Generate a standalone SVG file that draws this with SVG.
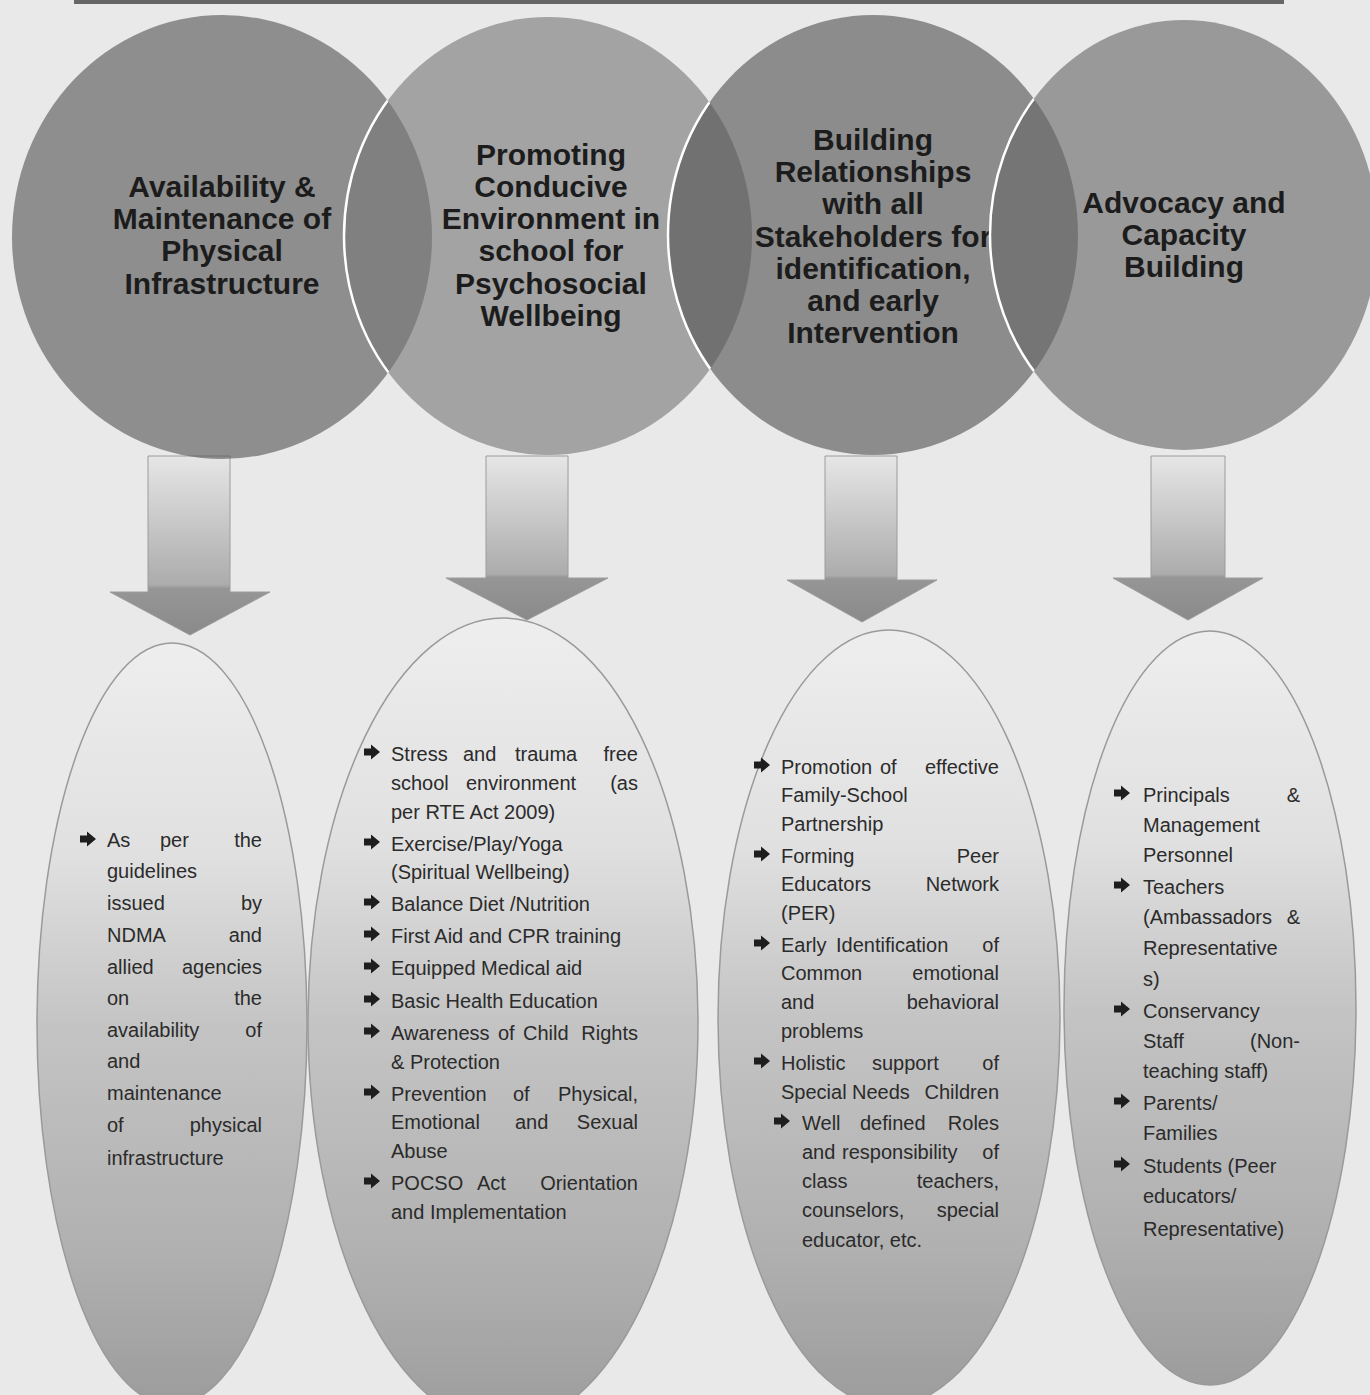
<svg xmlns="http://www.w3.org/2000/svg" width="1370" height="1395" viewBox="0 0 1370 1395">
<defs>
<style>
.ct{font-family:"Liberation Sans",Arial,sans-serif;font-weight:bold;font-size:30px;fill:#1c1c1c;text-anchor:middle}
.bt{font-family:"Liberation Sans",Arial,sans-serif;font-size:20px;fill:#2b2b2b}
.e{text-anchor:end}
.cf{stroke:none}
.arc{fill:none;stroke:#ffffff;stroke-width:2.5}
.ell{fill:url(#gEll);stroke:#9a9a9a;stroke-width:1.5}
.arr{fill:url(#gArr);stroke:#9c9c9c;stroke-width:1}
</style>
<linearGradient id="gEll" x1="0" y1="0" x2="0" y2="1">
<stop offset="0" stop-color="#eeeeee"/>
<stop offset="0.28" stop-color="#e0e0e0"/>
<stop offset="0.5" stop-color="#c4c4c4"/>
<stop offset="0.8" stop-color="#b0b0b0"/>
<stop offset="1" stop-color="#9c9c9c"/>
</linearGradient>
<linearGradient id="gArr" x1="0" y1="0" x2="0" y2="1">
<stop offset="0" stop-color="#e6e6e6"/>
<stop offset="0.72" stop-color="#acacac"/>
<stop offset="0.74" stop-color="#969696"/>
<stop offset="1" stop-color="#8a8a8a"/>
</linearGradient>
<path id="blt" d="M-8,-3.5 L-1,-3.5 L-1,-7.5 L8,0 L-1,7.5 L-1,3.5 L-8,3.5 Z" fill="#1e1e1e"/>
<clipPath id="in1"><ellipse cx="222" cy="237" rx="210" ry="222"/></clipPath>
<clipPath id="in2"><ellipse cx="548" cy="236" rx="204" ry="219"/></clipPath>
<clipPath id="in3"><ellipse cx="873" cy="235" rx="205" ry="220"/></clipPath>
</defs>
<rect x="0" y="0" width="1370" height="1395" fill="#e9e9e9"/>
<rect x="74" y="0" width="1210" height="4" fill="#666666"/>

<g id="connectors">
<path class="arr" d="M148,456 H230 V592 H270 L190,635 L110,592 H148 Z"/>
<path class="arr" d="M486,456 H568 V578 H608 L527,620 L446,578 H486 Z"/>
<path class="arr" d="M825,456 H897 V580 H937 L862,622 L787,580 H825 Z"/>
<path class="arr" d="M1151,456 H1225 V578 H1263 L1188,620 L1113,578 H1151 Z"/>
</g>

<g id="c1">
<ellipse class="cf" cx="222" cy="237" rx="210" ry="222" fill="#555555" fill-opacity="0.62"/>
<text class="ct"><tspan x="222" y="197">Availability &amp;</tspan><tspan x="222" y="229">Maintenance of</tspan><tspan x="222" y="261">Physical</tspan><tspan x="222" y="294">Infrastructure</tspan></text>
</g>
<g id="c2">
<ellipse class="cf" cx="548" cy="236" rx="204" ry="219" fill="#787878" fill-opacity="0.62"/>
<ellipse class="arc" cx="548" cy="236" rx="204" ry="219" clip-path="url(#in1)"/>
<text class="ct"><tspan x="551" y="165">Promoting</tspan><tspan x="551" y="197">Conducive</tspan><tspan x="551" y="229">Environment in</tspan><tspan x="551" y="261">school for</tspan><tspan x="551" y="294">Psychosocial</tspan><tspan x="551" y="326">Wellbeing</tspan></text>
</g>
<g id="c3">
<ellipse class="cf" cx="873" cy="235" rx="205" ry="220" fill="#525252" fill-opacity="0.62"/>
<ellipse class="arc" cx="873" cy="235" rx="205" ry="220" clip-path="url(#in2)"/>
<text class="ct"><tspan x="873" y="150">Building</tspan><tspan x="873" y="182">Relationships</tspan><tspan x="873" y="214">with all</tspan><tspan x="873" y="247">Stakeholders for</tspan><tspan x="873" y="279">identification,</tspan><tspan x="873" y="311">and early</tspan><tspan x="873" y="343">Intervention</tspan></text>
</g>
<g id="c4">
<ellipse class="cf" cx="1184" cy="235" rx="194" ry="215" fill="#686868" fill-opacity="0.62"/>
<ellipse class="arc" cx="1184" cy="235" rx="194" ry="215" clip-path="url(#in3)"/>
<text class="ct"><tspan x="1184" y="213">Advocacy and</tspan><tspan x="1184" y="245">Capacity</tspan><tspan x="1184" y="277">Building</tspan></text>
</g>

<g id="e1">
<ellipse class="ell" cx="172" cy="1024" rx="135" ry="381"/>
<use href="#blt" x="88" y="839"/>
<text class="bt">
<tspan x="107" y="847">As</tspan><tspan x="160" y="847">per</tspan><tspan x="262" y="847" class="e">the</tspan>
</text>
<text class="bt" x="107" y="878">guidelines</text>
<text class="bt"><tspan x="107" y="910">issued</tspan><tspan x="262" y="910" class="e">by</tspan></text>
<text class="bt"><tspan x="107" y="942">NDMA</tspan><tspan x="262" y="942" class="e">and</tspan></text>
<text class="bt"><tspan x="107" y="974">allied</tspan><tspan x="262" y="974" class="e">agencies</tspan></text>
<text class="bt"><tspan x="107" y="1005">on</tspan><tspan x="262" y="1005" class="e">the</tspan></text>
<text class="bt"><tspan x="107" y="1037">availability</tspan><tspan x="262" y="1037" class="e">of</tspan></text>
<text class="bt" x="107" y="1068">and</text>
<text class="bt" x="107" y="1100">maintenance</text>
<text class="bt"><tspan x="107" y="1132">of</tspan><tspan x="262" y="1132" class="e">physical</tspan></text>
<text class="bt" x="107" y="1165">infrastructure</text>
</g>

<g id="e2">
<ellipse class="ell" cx="503" cy="1022" rx="195" ry="404"/>
<use href="#blt" x="372" y="752"/>
<text class="bt"><tspan x="391" y="761">Stress</tspan><tspan x="463" y="761">and</tspan><tspan x="515" y="761">trauma</tspan><tspan x="638" y="761" class="e">free</tspan></text>
<text class="bt"><tspan x="391" y="790">school</tspan><tspan x="466" y="790">environment</tspan><tspan x="638" y="790" class="e">(as</tspan></text>
<text class="bt" x="391" y="819">per RTE Act 2009)</text>
<use href="#blt" x="372" y="842"/>
<text class="bt" x="391" y="851">Exercise/Play/Yoga</text>
<text class="bt" x="391" y="879">(Spiritual Wellbeing)</text>
<use href="#blt" x="372" y="902"/>
<text class="bt" x="391" y="911">Balance Diet /Nutrition</text>
<use href="#blt" x="372" y="934"/>
<text class="bt" x="391" y="943">First Aid and CPR training</text>
<use href="#blt" x="372" y="966"/>
<text class="bt" x="391" y="975">Equipped Medical aid</text>
<use href="#blt" x="372" y="999"/>
<text class="bt" x="391" y="1008">Basic Health Education</text>
<use href="#blt" x="372" y="1031"/>
<text class="bt"><tspan x="391" y="1040">Awareness</tspan><tspan x="498" y="1040">of</tspan><tspan x="523" y="1040">Child</tspan><tspan x="638" y="1040" class="e">Rights</tspan></text>
<text class="bt" x="391" y="1069">&amp; Protection</text>
<use href="#blt" x="372" y="1092"/>
<text class="bt"><tspan x="391" y="1101">Prevention</tspan><tspan x="513" y="1101">of</tspan><tspan x="638" y="1101" class="e">Physical,</tspan></text>
<text class="bt"><tspan x="391" y="1129">Emotional</tspan><tspan x="515" y="1129">and</tspan><tspan x="638" y="1129" class="e">Sexual</tspan></text>
<text class="bt" x="391" y="1158">Abuse</text>
<use href="#blt" x="372" y="1181"/>
<text class="bt"><tspan x="391" y="1190">POCSO</tspan><tspan x="477" y="1190">Act</tspan><tspan x="638" y="1190" class="e">Orientation</tspan></text>
<text class="bt" x="391" y="1219">and Implementation</text>
</g>

<g id="e3">
<ellipse class="ell" cx="889" cy="1018" rx="171" ry="388"/>
<use href="#blt" x="762" y="765"/>
<text class="bt"><tspan x="781" y="774">Promotion</tspan><tspan x="880" y="774">of</tspan><tspan x="999" y="774" class="e">effective</tspan></text>
<text class="bt" x="781" y="802">Family-School</text>
<text class="bt" x="781" y="831">Partnership</text>
<use href="#blt" x="762" y="854"/>
<text class="bt"><tspan x="781" y="863">Forming</tspan><tspan x="999" y="863" class="e">Peer</tspan></text>
<text class="bt"><tspan x="781" y="891">Educators</tspan><tspan x="999" y="891" class="e">Network</tspan></text>
<text class="bt" x="781" y="920">(PER)</text>
<use href="#blt" x="762" y="943"/>
<text class="bt"><tspan x="781" y="952">Early</tspan><tspan x="836" y="952">Identification</tspan><tspan x="999" y="952" class="e">of</tspan></text>
<text class="bt"><tspan x="781" y="980">Common</tspan><tspan x="999" y="980" class="e">emotional</tspan></text>
<text class="bt"><tspan x="781" y="1009">and</tspan><tspan x="999" y="1009" class="e">behavioral</tspan></text>
<text class="bt" x="781" y="1038">problems</text>
<use href="#blt" x="762" y="1061"/>
<text class="bt"><tspan x="781" y="1070">Holistic</tspan><tspan x="872" y="1070">support</tspan><tspan x="999" y="1070" class="e">of</tspan></text>
<text class="bt"><tspan x="781" y="1099">Special</tspan><tspan x="852" y="1099">Needs</tspan><tspan x="999" y="1099" class="e">Children</tspan></text>
<use href="#blt" x="782" y="1121"/>
<text class="bt"><tspan x="802" y="1130">Well</tspan><tspan x="860" y="1130">defined</tspan><tspan x="999" y="1130" class="e">Roles</tspan></text>
<text class="bt"><tspan x="802" y="1159">and</tspan><tspan x="842" y="1159">responsibility</tspan><tspan x="999" y="1159" class="e">of</tspan></text>
<text class="bt"><tspan x="802" y="1188">class</tspan><tspan x="999" y="1188" class="e">teachers,</tspan></text>
<text class="bt"><tspan x="802" y="1217">counselors,</tspan><tspan x="999" y="1217" class="e">special</tspan></text>
<text class="bt" x="802" y="1247">educator, etc.</text>
</g>

<g id="e4">
<ellipse class="ell" cx="1210" cy="1008" rx="146" ry="377"/>
<use href="#blt" x="1122" y="793"/>
<text class="bt"><tspan x="1143" y="802">Principals</tspan><tspan x="1300" y="802" class="e">&amp;</tspan></text>
<text class="bt" x="1143" y="832">Management</text>
<text class="bt" x="1143" y="862">Personnel</text>
<use href="#blt" x="1122" y="885"/>
<text class="bt" x="1143" y="894">Teachers</text>
<text class="bt"><tspan x="1143" y="924">(Ambassadors</tspan><tspan x="1300" y="924" class="e">&amp;</tspan></text>
<text class="bt" x="1143" y="955">Representative</text>
<text class="bt" x="1143" y="986">s)</text>
<use href="#blt" x="1122" y="1009"/>
<text class="bt" x="1143" y="1018">Conservancy</text>
<text class="bt"><tspan x="1143" y="1048">Staff</tspan><tspan x="1300" y="1048" class="e">(Non-</tspan></text>
<text class="bt" x="1143" y="1078">teaching staff)</text>
<use href="#blt" x="1122" y="1101"/>
<text class="bt" x="1143" y="1110">Parents/</text>
<text class="bt" x="1143" y="1140">Families</text>
<use href="#blt" x="1122" y="1164"/>
<text class="bt" x="1143" y="1173">Students (Peer</text>
<text class="bt" x="1143" y="1203">educators/</text>
<text class="bt" x="1143" y="1236">Representative)</text>
</g>
</svg>
